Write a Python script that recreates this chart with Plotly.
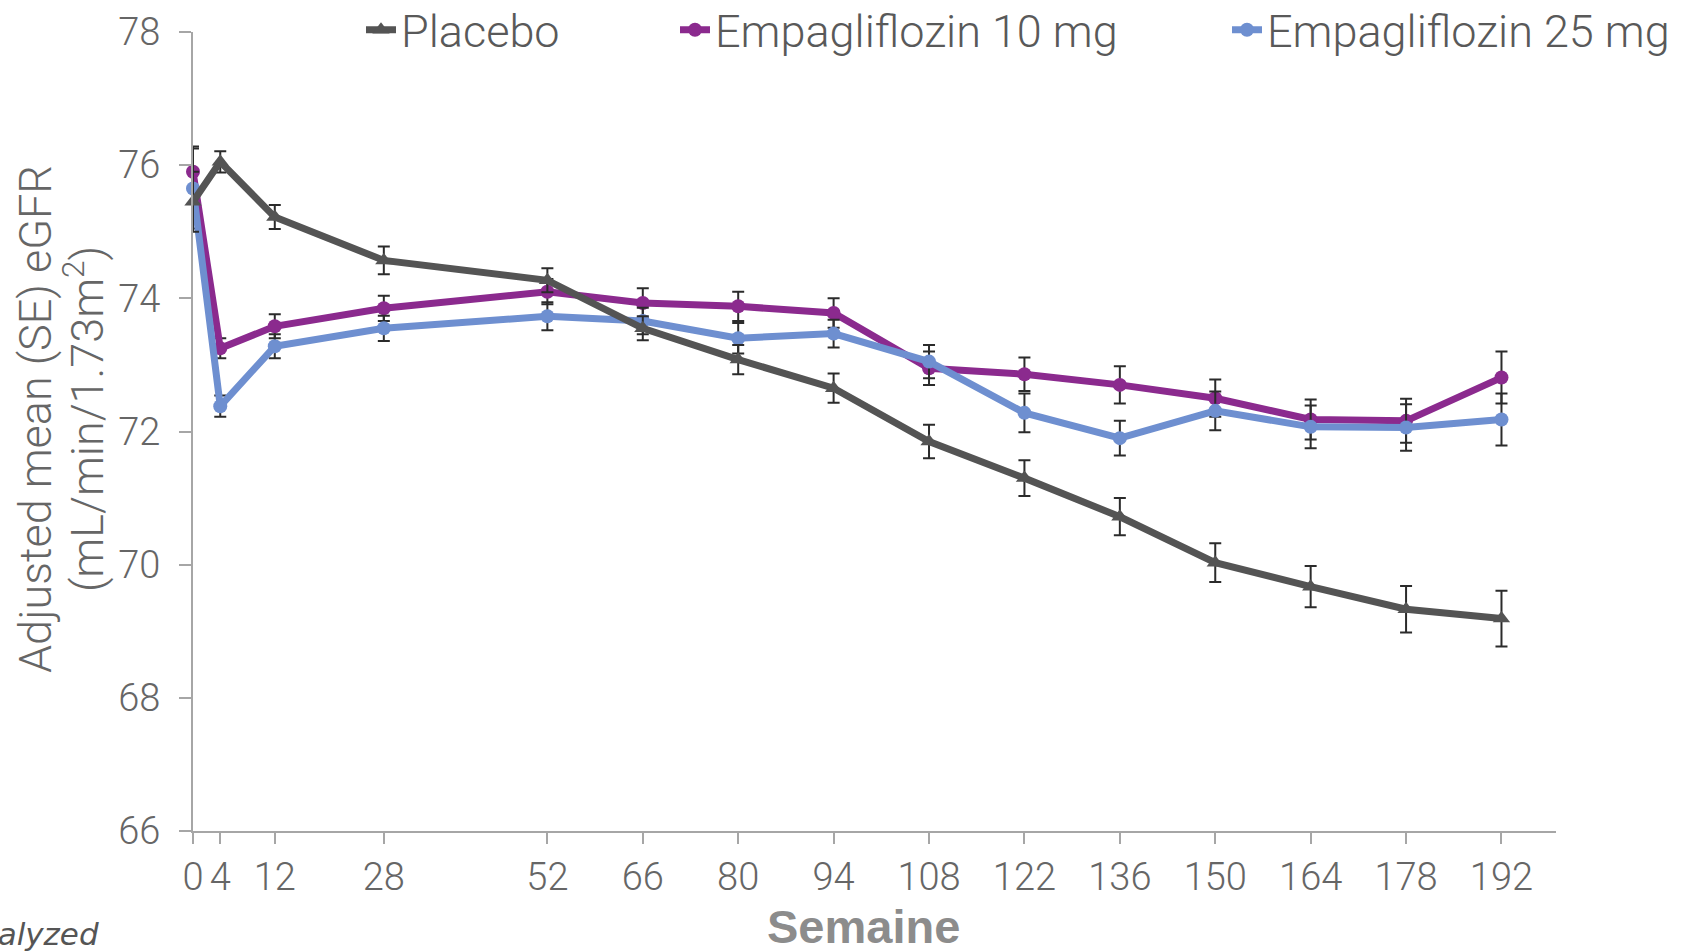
import plotly.graph_objects as go

weeks = [0, 4, 12, 28, 52, 66, 80, 94, 108, 122, 136, 150, 164, 178, 192]
tick_labels = ["0", "4", "12", "28", "52", "66", "80", "94", "108", "122", "136", "150", "164", "178", "192"]

placebo = [75.45, 76.05, 75.22, 74.57, 74.27, 73.55, 73.08, 72.65, 71.85, 71.30, 70.72, 70.03, 69.67, 69.33, 69.19]
placebo_se = [0.45, 0.16, 0.18, 0.21, 0.18, 0.18, 0.22, 0.22, 0.25, 0.27, 0.28, 0.29, 0.31, 0.35, 0.42]
empa10 = [75.90, 73.25, 73.58, 73.85, 74.10, 73.93, 73.88, 73.78, 72.95, 72.86, 72.70, 72.50, 72.18, 72.16, 72.81]
empa10_se = [0.38, 0.15, 0.18, 0.19, 0.19, 0.22, 0.22, 0.22, 0.25, 0.25, 0.28, 0.28, 0.30, 0.33, 0.39]
empa25 = [75.65, 72.38, 73.28, 73.55, 73.73, 73.66, 73.40, 73.47, 73.05, 72.28, 71.90, 72.31, 72.07, 72.06, 72.18]
empa25_se = [0.60, 0.16, 0.18, 0.19, 0.21, 0.20, 0.23, 0.21, 0.25, 0.29, 0.26, 0.29, 0.32, 0.35, 0.39]

names = ["Placebo", "Empagliflozin 10 mg", "Empagliflozin 25 mg"]
colors = ["#545454", "#8b2a8e", "#6e8fd0"]

FONT = "Roboto, Open Sans, sans-serif"
W, H = 1698, 952
L, R, T, B = 193, 142, 32, 121
pw = W - L - R
ph = H - T - B

def px_x(p):
    return (p - L) / pw

def px_y(p):
    return (H - B - p) / ph

fig = go.Figure()

err_style = dict(type="data", visible=True, color="#2b2b2b", thickness=2, width=6)

fig.add_trace(go.Scatter(
    x=weeks, y=empa10, name=names[1], mode="lines+markers",
    line=dict(color=colors[1], width=7),
    marker=dict(symbol="circle", size=14, color=colors[1]),
    error_y=dict(array=empa10_se, **err_style),
    cliponaxis=False, legend="legend2"))
fig.add_trace(go.Scatter(
    x=weeks, y=empa25, name=names[2], mode="lines+markers",
    line=dict(color=colors[2], width=7),
    marker=dict(symbol="circle", size=14, color=colors[2]),
    error_y=dict(array=empa25_se, **err_style),
    cliponaxis=False, legend="legend3"))
fig.add_trace(go.Scatter(
    x=weeks, y=placebo, name=names[0], mode="lines+markers",
    line=dict(color=colors[0], width=7),
    marker=dict(symbol="triangle-up", size=15, color=colors[0]),
    error_y=dict(array=placebo_se, **err_style),
    cliponaxis=False, legend="legend"))

leg_common = dict(orientation="h", yref="paper", y=px_y(30), yanchor="middle",
                  xanchor="left", bgcolor="rgba(0,0,0,0)", borderwidth=0,
                  font=dict(family=FONT, size=45, color="#595959", weight=300))

fig.update_layout(
    width=W, height=H,
    margin=dict(l=L, r=R, t=T, b=B, pad=0, autoexpand=False),
    paper_bgcolor="white", plot_bgcolor="white",
    showlegend=True,
    legend=dict(x=px_x(361), **leg_common),
    legend2=dict(x=px_x(675), **leg_common),
    legend3=dict(x=px_x(1227), **leg_common),
    xaxis=dict(range=[0, 200], tickmode="array", tickvals=weeks, ticktext=tick_labels,
               showgrid=False, zeroline=False, showline=True, linecolor="#a6a6a6", linewidth=2,
               ticks="outside", ticklen=11, tickwidth=1.5, tickcolor="#a6a6a6",
               ticklabelstandoff=0, automargin=False,
               tickfont=dict(family=FONT, size=38, color="#666666", weight=300)),
    yaxis=dict(range=[66, 78], tickmode="array", tickvals=[66, 68, 70, 72, 74, 76, 78],
               showgrid=False, zeroline=False, showline=True, linecolor="#a6a6a6", linewidth=2,
               ticks="outside", ticklen=12, tickwidth=1.5, tickcolor="#a6a6a6",
               ticklabelstandoff=11, automargin=False,
               tickfont=dict(family=FONT, size=38, color="#666666", weight=300)),
    annotations=[
        dict(text="Adjusted mean (SE) eGFR", xref="paper", yref="paper",
             x=px_x(36), y=px_y(419), xanchor="center", yanchor="middle",
             textangle=-90, showarrow=False,
             font=dict(family=FONT, size=45, color="#666666", weight=300)),
        dict(text="(mL/min/1.73m<sup>2</sup>)", xref="paper", yref="paper",
             x=px_x(85), y=px_y(419), xanchor="center", yanchor="middle",
             textangle=-90, showarrow=False,
             font=dict(family=FONT, size=45, color="#666666", weight=300)),
        dict(text="<b>Semaine</b>", xref="paper", yref="paper",
             x=px_x(863), y=px_y(926), xanchor="center", yanchor="middle",
             showarrow=False,
             font=dict(family="Liberation Sans, Arial, sans-serif", size=47, color="#8c8c8c")),
        dict(text="<i>analyzed</i>", xref="paper", yref="paper",
             x=px_x(101), y=px_y(934), xanchor="right", yanchor="middle",
             showarrow=False,
             font=dict(family="DejaVu Sans, sans-serif", size=31, color="#555555")),
    ],
)

fig.write_html("out.html")
